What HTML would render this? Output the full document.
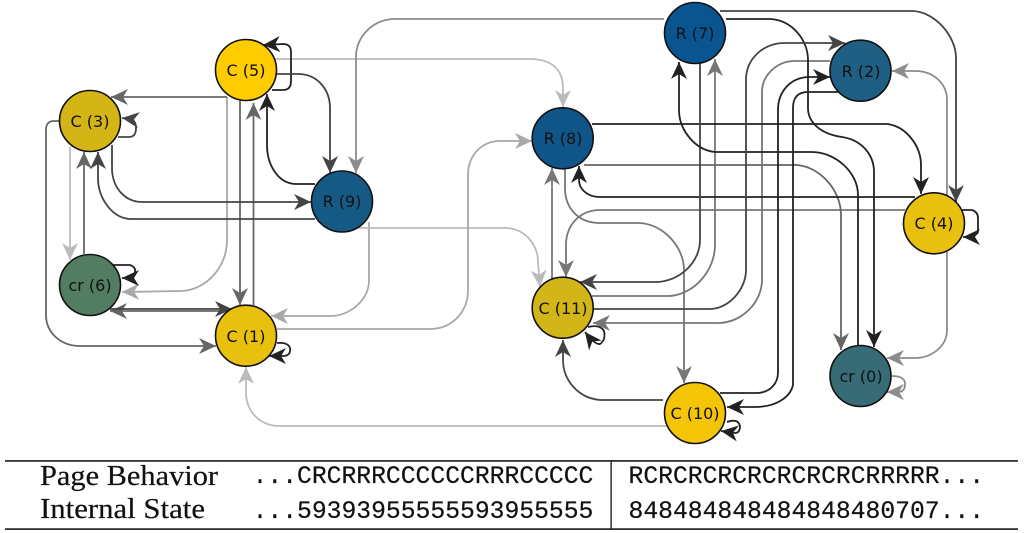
<!DOCTYPE html>
<html>
<head>
<meta charset="utf-8">
<style>
html,body{margin:0;padding:0;background:#fff;width:1024px;height:533px;overflow:hidden}
svg{display:block}
.e{fill:none;stroke-width:1.8}
.a2{stroke:#222;marker-end:url(#m2)}
.a4{stroke:#444;marker-end:url(#m4)}
.a6{stroke:#666;marker-end:url(#m6)}
.a7{stroke:#777;marker-end:url(#m7)}
.a9{stroke:#8c8c8c;marker-end:url(#m9)}
.aa{stroke:#a8a8a8;marker-end:url(#ma)}
.ab{stroke:#bbb;marker-end:url(#mb)}
.n{stroke:#111;stroke-width:1.6}
.l{font-family:"DejaVu Sans",sans-serif;font-size:16px;fill:#111;text-anchor:middle}
.s{font-family:"Liberation Serif",serif;font-size:28px;fill:#111;stroke:#111;stroke-width:.2}
.m{font-family:"Liberation Mono",monospace;font-size:24.7px;fill:#111;stroke:#111;stroke-width:.2}
</style>
</head>
<body>
<svg width="1024" height="533" viewBox="0 0 1024 533" xmlns="http://www.w3.org/2000/svg">
<defs>
<marker id="m2" markerUnits="userSpaceOnUse" markerWidth="20" markerHeight="20" refX="18" refY="10" orient="auto"><path d="M18,10 L1,2 L6,10 L1,18 Z" fill="#222"/></marker>
<marker id="m4" markerUnits="userSpaceOnUse" markerWidth="20" markerHeight="20" refX="18" refY="10" orient="auto"><path d="M18,10 L1,2 L6,10 L1,18 Z" fill="#444"/></marker>
<marker id="m6" markerUnits="userSpaceOnUse" markerWidth="20" markerHeight="20" refX="18" refY="10" orient="auto"><path d="M18,10 L1,2 L6,10 L1,18 Z" fill="#666"/></marker>
<marker id="m7" markerUnits="userSpaceOnUse" markerWidth="20" markerHeight="20" refX="18" refY="10" orient="auto"><path d="M18,10 L1,2 L6,10 L1,18 Z" fill="#777"/></marker>
<marker id="m9" markerUnits="userSpaceOnUse" markerWidth="20" markerHeight="20" refX="18" refY="10" orient="auto"><path d="M18,10 L1,2 L6,10 L1,18 Z" fill="#8c8c8c"/></marker>
<marker id="ma" markerUnits="userSpaceOnUse" markerWidth="20" markerHeight="20" refX="18" refY="10" orient="auto"><path d="M18,10 L1,2 L6,10 L1,18 Z" fill="#a8a8a8"/></marker>
<marker id="mb" markerUnits="userSpaceOnUse" markerWidth="20" markerHeight="20" refX="18" refY="10" orient="auto"><path d="M18,10 L1,2 L6,10 L1,18 Z" fill="#bbb"/></marker>
</defs>

<!-- light edges first -->
<g class="e">
<path class="ab" d="M275,59 H530 C552,59 563,70 563,88 V107"/>
<path class="a9" d="M664,19 H395 C372,19 356,38 356,56 V173"/>
<path class="aa" d="M227,97 V240 C227,268 205,291 180,291 L122,292"/>
<path class="ab" d="M70,147 V260"/>
<path class="aa" d="M369,222 V280 C369,300 350,316 330,316 H271"/>
<path class="ab" d="M358,228 H505 C525,228 538,245 538,262 L540,287"/>
<path class="aa" d="M277,329 H430 C452,329 468,312 468,290 V175 C468,155 482,141 500,141 H532"/>
<path class="ab" d="M667,426 H280 C260,426 246,412 246,392 V367"/>
<path class="a7" d="M552,283 V168"/>
<path class="a7" d="M565,168 V188 C565,208 578,223 600,223 H640 C665,225 684,248 684,270 V383"/>
<path class="a7" d="M905,210 H600 C580,210 566,225 566,245 V277"/>
<path class="a7" d="M592,296 H670 C695,294 715,270 715,245 V59"/>
<path class="a6" d="M584,165 H797 C820,167 841,190 841,215 V350"/>
<path class="a7" d="M830,61 H795 C776,61 762,76 762,92 V280 C762,302 742,323 718,323 H593"/>
<path class="a9" d="M947,252 V330 C947,346 932,358 915,358 H887"/>
<path class="a9" d="M947,195 V100 C947,84 934,71 915,71 H892"/>
<path class="a9" d="M892,376 Q905,376 905,384 Q905,392 898,392 L887,392"/>
<path class="a6" d="M59,121 H54 Q46,121 46,130 V315 C46,332 60,346 80,346 H216"/>
<path class="a6" d="M84,254 V152"/>
<path class="a6" d="M240,101 V305"/>
<path class="a6" d="M253.5,305 V103"/>
<path class="a6" d="M227,97 H111"/>
<path class="a6" d="M230,311 H110"/>
</g>

<!-- dark edges -->
<g class="e">
<path class="a2" d="M272,90 H283 Q291,90 291,81 V52 Q291,44 283,44 L263,45"/>
<path class="a4" d="M277,74 H300 C318,75 330,90 330,108 V173"/>
<path class="a2" d="M315,184 H295 C278,183 267,165 267,145 V94"/>
<path class="a4" d="M112,145 V170 C113,188 125,202 142,202 H311"/>
<path class="a4" d="M315,219 H130 C112,218 98,198 98,178 V152"/>
<path class="a4" d="M118,137 H129 Q136,137 136,128 Q136,120 130,119 L122,118"/>
<path class="a2" d="M113,265 H130 Q136,267 135,272 Q135,278 130,278 L122,278"/>
<path class="a4" d="M110,309 H232"/>
<path class="a2" d="M277,343 Q288,342 290,348 Q291,356 283,356 L269,356"/>
<path class="a2" d="M915,197 H600 C586,197 579,188 579,180 V166"/>
<path class="a2" d="M592,124 H887 C906,126 921,146 921,165 V194"/>
<path class="a4" d="M720,11 H913 C935,12 956,36 956,58 V202"/>
<path class="a2" d="M726,19 H770 C792,20 808,40 808,60 V108 C808,122 820,134 842,137 C862,140 874,155 874,172 V347"/>
<path class="a4" d="M700,64 V240 C700,262 680,282 655,282 H580"/>
<path class="a2" d="M858,346 V195 C858,172 835,152 812,152 H715 C695,150 679,130 679,110 V62"/>
<path class="a4" d="M593,309 H710 C728,309 746,290 746,270 V80 C746,58 764,43 785,43 H845"/>
<path class="a2" d="M720,393 H758 C770,392 778,384 778,372 V110 C778,92 790,77 810,77 H830"/>
<path class="a2" d="M840,92 H808 Q793,92 793,108 V385 C790,398 775,407 755,407 H727"/>
<path class="a4" d="M663,400 H600 C578,398 563,380 563,360 V340"/>
<path class="a2" d="M588,327 Q600,324 604,331 Q606,340 600,344 Q595,345 585,332"/>
<path class="a2" d="M727,422 Q738,418 740,426 Q740,433 735,433 L721,431"/>
<path class="a2" d="M962,210 H972 Q978,212 978,218 V232 Q976,237 963,237"/>
</g>

<!-- nodes -->
<circle class="n" cx="246" cy="70" r="30.5" fill="#ffcc00"/>
<circle class="n" cx="90" cy="121" r="30.5" fill="#d4b516"/>
<circle class="n" cx="342" cy="201.5" r="30.5" fill="#155a85"/>
<circle class="n" cx="90" cy="285" r="30.5" fill="#527d62"/>
<circle class="n" cx="246" cy="335.7" r="30.5" fill="#e8c00e"/>
<circle class="n" cx="562.7" cy="138.3" r="30.5" fill="#0f5588"/>
<circle class="n" cx="695" cy="33" r="30.5" fill="#0a5490"/>
<circle class="n" cx="860.5" cy="70.7" r="30.5" fill="#1e5f83"/>
<circle class="n" cx="934" cy="223.3" r="30.5" fill="#e8c00e"/>
<circle class="n" cx="562.7" cy="307.7" r="30.5" fill="#d2b518"/>
<circle class="n" cx="695" cy="413" r="30.5" fill="#f3c506"/>
<circle class="n" cx="860.5" cy="376" r="30.5" fill="#376c77"/>

<text class="l" x="246" y="76">C (5)</text>
<text class="l" x="90" y="127">C (3)</text>
<text class="l" x="342" y="207">R (9)</text>
<text class="l" x="90" y="291">cr (6)</text>
<text class="l" x="246" y="342">C (1)</text>
<text class="l" x="563" y="144">R (8)</text>
<text class="l" x="695" y="39">R (7)</text>
<text class="l" x="861" y="77">R (2)</text>
<text class="l" x="934" y="229">C (4)</text>
<text class="l" x="563" y="314">C (11)</text>
<text class="l" x="695" y="419">C (10)</text>
<text class="l" x="861" y="382">cr (0)</text>

<!-- table -->
<rect x="5" y="460" width="1013" height="1.8" fill="#333"/>
<rect x="5" y="528.2" width="1013" height="1.8" fill="#333"/>
<rect x="610.4" y="460" width="1.4" height="70" fill="#222"/>
<text class="s" x="40" y="485" textLength="178" lengthAdjust="spacingAndGlyphs">Page Behavior</text>
<text class="s" x="40" y="518" textLength="165" lengthAdjust="spacingAndGlyphs">Internal State</text>
<text class="m" x="252.6" y="483">...CRCRRRCCCCCCRRRCCCCC</text>
<text class="m" x="252.6" y="518">...59393955555593955555</text>
<text class="m" x="628.5" y="483">RCRCRCRCRCRCRCRCRRRRR...</text>
<text class="m" x="628.5" y="518">848484848484848480707...</text>
</svg>
</body>
</html>
